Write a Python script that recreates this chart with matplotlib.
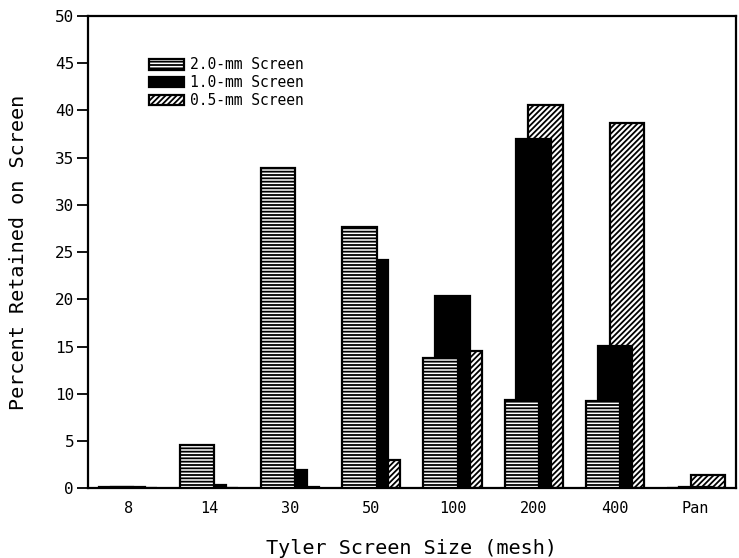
import matplotlib
matplotlib.use("Agg")
import matplotlib.pyplot as plt
import numpy as np

categories = ["8", "14", "30", "50", "100", "200", "400", "Pan"]
screen_20 = [0.1, 4.6, 33.9, 27.7, 13.8, 9.3, 9.2, 0.0]
screen_10 = [0.1, 0.3, 1.9, 24.2, 20.4, 37.0, 15.1, 0.1]
screen_05 = [0.0, 0.0, 0.1, 3.0, 14.5, 40.6, 38.7, 1.4]
series_labels = ["2.0-mm Screen", "1.0-mm Screen", "0.5-mm Screen"]

plt.rcParams['font.family'] = ['DejaVu Sans Mono']
plt.rcParams['hatch.linewidth'] = 1.3

fig = plt.figure(figsize=(7.39, 5.58), dpi=100)
ax = fig.add_axes([0.119, 0.1249, 0.877, 0.8464])

x = np.arange(len(categories))
w = 0.42
off = 0.148

b05 = ax.bar(x + off, screen_05, w, facecolor='white', edgecolor='black',
             hatch='//////', linewidth=1.6, zorder=2, label=series_labels[2])
b10 = ax.bar(x, screen_10, w, facecolor='black', edgecolor='black',
             linewidth=1.6, zorder=3, label=series_labels[1])
b20 = ax.bar(x - off, screen_20, w, facecolor='white', edgecolor='black',
             hatch='-----', linewidth=1.6, zorder=4, label=series_labels[0])

ax.set_xlim(-0.5, 7.5)
ax.set_ylim(0, 50)
ax.set_yticks(np.arange(0, 51, 5))
ax.set_xticks(x)
ax.set_xticklabels(categories)
ax.tick_params(axis='x', length=0, pad=9, labelsize=11)
ax.tick_params(axis='y', length=8, width=1.3, direction='out', pad=2, labelsize=11.5)
for s in ax.spines.values():
    s.set_linewidth(1.6)

ax.set_xlabel("Tyler Screen Size (mesh)", fontsize=14.5, labelpad=17)
ax.set_ylabel("Percent Retained on Screen", fontsize=14.5, labelpad=19)

leg = ax.legend(handles=[b20, b10, b05], labels=series_labels, loc='upper left',
                bbox_to_anchor=(0.085, 0.925), frameon=False, fontsize=10.5,
                handlelength=2.4, handleheight=0.75, handletextpad=0.4,
                labelspacing=0.2, borderaxespad=0)

fig.savefig("out.png", dpi=100)
